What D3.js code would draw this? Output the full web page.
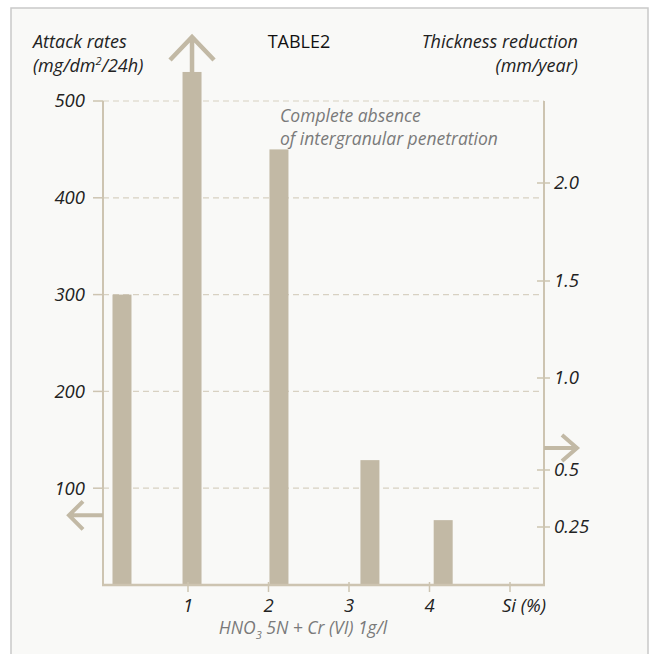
<!DOCTYPE html>
<html>
<head>
<meta charset="utf-8">
<script src="https://cdn.jsdelivr.net/npm/d3@7"></script>
<style>
  body { margin: 0; background: #fff; }
  text { font-family: "Open Sans", sans-serif; }
  .tick-label { font-style: italic; font-size: 18.5px; fill: #222; }
  .head { font-style: italic; font-size: 18px; fill: #222; }
  .note { font-style: italic; font-size: 17.5px; fill: #7a7a7a; }
</style>
</head>
<body>
<div id="wrapper"></div>
<script>
// data
const siContent = [0.18, 1.05, 2.13, 3.26, 4.17]      // bar centres, Si (%)
const attackRate = [300, 530, 450, 129, 67]            // mg/dm2/24h
const offScale = [false, true, false, false, false]    // bar 2 runs off the top
const leftTicks = [100, 200, 300, 400, 500]
const rightTicks = [0.25, 0.5, 1.0, 1.5, 2.0]
const rightTickLabels = ["0.25", "0.5", "1.0", "1.5", "2.0"]
const xTicks = [1, 2, 3, 4]
const xTickLabels = ["1", "2", "3", "4"]

const width = 649
const height = 654
const ink = "#c2b9a5"
const axisColor = "#cdc4b1"

const svg = d3.select("#wrapper").append("svg")
    .attr("width", width)
    .attr("height", height)

// panel
svg.append("rect")
    .attr("x", 11).attr("y", 8)
    .attr("width", 637).attr("height", 660)
    .attr("fill", "#f9f9f7")
    .attr("stroke", "#c9c9c9")
    .attr("stroke-width", 1.5)

// scales
const x = d3.scaleLinear().domain([0, 5]).range([107.5, 510])
const yLeft = d3.scaleLinear().domain([0, 500]).range([585, 101])
// right scale is not linear on the original drawing
const yRight = d3.scaleLinear()
    .domain([0, 0.25, 0.5, 1.0, 1.5, 2.0])
    .range([585, 527, 470, 378, 281, 183])

const axisLeftX = 103
const axisRightX = 544

// grid
svg.append("g").selectAll("line")
  .data(leftTicks)
  .join("line")
    .attr("x1", axisLeftX).attr("x2", axisRightX)
    .attr("y1", d => yLeft(d)).attr("y2", d => yLeft(d))
    .attr("stroke", "#d8d1c2")
    .attr("stroke-width", 1.2)
    .attr("stroke-dasharray", "6,4")

// bars
const barWidth = 19
svg.append("g").selectAll("rect")
  .data(siContent)
  .join("rect")
    .attr("x", d => x(d) - barWidth / 2)
    .attr("width", barWidth)
    .attr("y", (d, i) => yLeft(attackRate[i]))
    .attr("height", (d, i) => yLeft(0) - yLeft(attackRate[i]))
    .attr("fill", ink)

// arrow on the off-scale bar
const arrowColor = "#c2b9a5"
siContent.forEach((d, i) => {
  if (!offScale[i]) return
  const cx = x(d)
  const top = yLeft(attackRate[i])
  const tipY = 37
  svg.append("path")
      .attr("d", `M${cx},${top} V${tipY} M${cx - 22},${tipY + 23} L${cx},${tipY} L${cx + 22},${tipY + 23}`)
      .attr("fill", "none")
      .attr("stroke", arrowColor)
      .attr("stroke-width", 4.5)
})

// axes lines
svg.append("line")
    .attr("x1", axisLeftX).attr("x2", axisLeftX)
    .attr("y1", yLeft(500)).attr("y2", yLeft(0) + 1)
    .attr("stroke", axisColor).attr("stroke-width", 2)
svg.append("line")
    .attr("x1", axisRightX).attr("x2", axisRightX)
    .attr("y1", yLeft(500)).attr("y2", yLeft(0) + 1)
    .attr("stroke", axisColor).attr("stroke-width", 2)
svg.append("line")
    .attr("x1", axisLeftX - 1).attr("x2", axisRightX + 1)
    .attr("y1", yLeft(0)).attr("y2", yLeft(0))
    .attr("stroke", axisColor).attr("stroke-width", 2.5)

// left ticks
const leftG = svg.append("g")
leftG.selectAll("line")
  .data(leftTicks)
  .join("line")
    .attr("x1", axisLeftX - 10).attr("x2", axisLeftX)
    .attr("y1", d => yLeft(d)).attr("y2", d => yLeft(d))
    .attr("stroke", axisColor).attr("stroke-width", 1.5)
leftG.selectAll("text")
  .data(leftTicks)
  .join("text")
    .attr("class", "tick-label")
    .attr("x", 85)
    .attr("y", d => yLeft(d))
    .attr("dy", "0.35em")
    .attr("text-anchor", "end")
    .text(d => d)

// right ticks
const rightG = svg.append("g")
rightG.selectAll("line")
  .data(rightTicks)
  .join("line")
    .attr("x1", axisRightX - 7).attr("x2", axisRightX + 6)
    .attr("y1", d => yRight(d)).attr("y2", d => yRight(d))
    .attr("stroke", axisColor).attr("stroke-width", 1.5)
rightG.selectAll("text")
  .data(rightTicks)
  .join("text")
    .attr("class", "tick-label")
    .attr("x", axisRightX + 10)
    .attr("y", d => yRight(d))
    .attr("dy", "0.35em")
    .text((d, i) => rightTickLabels[i])

// x ticks
const xG = svg.append("g")
xG.selectAll("line")
  .data(xTicks.concat([5]))
  .join("line")
    .attr("x1", d => x(d)).attr("x2", d => x(d))
    .attr("y1", yLeft(0) - 3).attr("y2", yLeft(0) + 7)
    .attr("stroke", axisColor).attr("stroke-width", 1.5)
xG.selectAll("text")
  .data(xTicks)
  .join("text")
    .attr("class", "tick-label")
    .attr("x", d => x(d))
    .attr("y", 612)
    .attr("text-anchor", "middle")
    .text((d, i) => xTickLabels[i])
xG.append("text")
    .attr("class", "tick-label")
    .attr("x", x(5) + 14)
    .attr("y", 612)
    .attr("text-anchor", "middle")
    .text("Si (%)")

// direction arrows
const leftArrowY = yLeft(72)
svg.append("path")
    .attr("d", `M${axisLeftX},${leftArrowY} H69 M83,${leftArrowY - 14} L69,${leftArrowY} L83,${leftArrowY + 14}`)
    .attr("fill", "none").attr("stroke", arrowColor).attr("stroke-width", 4)
const rightArrowY = yRight(0.62)
svg.append("path")
    .attr("d", `M${axisRightX},${rightArrowY} H577 M562,${rightArrowY - 13} L577,${rightArrowY} L562,${rightArrowY + 13}`)
    .attr("fill", "none").attr("stroke", arrowColor).attr("stroke-width", 4)

// titles
svg.append("text").attr("class", "head").attr("x", 33).attr("y", 48).text("Attack rates")
const unit = svg.append("text").attr("class", "head").attr("x", 33).attr("y", 72)
unit.append("tspan").text("(mg/dm")
unit.append("tspan").attr("font-size", "11px").attr("dy", -7).text("2")
unit.append("tspan").attr("dy", 7).text("/24h)")

svg.append("text")
    .attr("x", 299).attr("y", 48)
    .attr("text-anchor", "middle")
    .attr("font-size", 18)
    .attr("font-weight", 500)
    .attr("fill", "#111")
    .text("TABLE2")

svg.append("text").attr("class", "head").attr("x", 578).attr("y", 48)
    .attr("text-anchor", "end").text("Thickness reduction")
svg.append("text").attr("class", "head").attr("x", 578).attr("y", 72)
    .attr("text-anchor", "end").text("(mm/year)")

svg.append("text").attr("class", "note").attr("x", 280).attr("y", 122).text("Complete absence")
svg.append("text").attr("class", "note").attr("x", 280).attr("y", 145).text("of intergranular penetration")

const sub = svg.append("text").attr("class", "note")
    .attr("x", 303).attr("y", 634)
    .attr("font-size", "18.5px")
    .attr("text-anchor", "middle")
sub.append("tspan").text("HNO")
sub.append("tspan").attr("font-size", "11px").attr("dy", 5).text("3")
sub.append("tspan").attr("dy", -5).text(" 5N + Cr (VI) 1g/l")
</script>
</body>
</html>
